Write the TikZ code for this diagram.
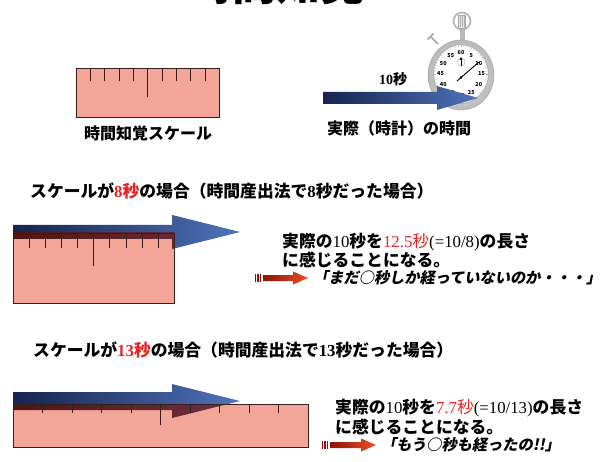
\documentclass[tikz,border=0pt]{standalone}
\usepackage{fontspec}
\setmainfont{Noto Sans CJK JP}
\newfontfamily\jpslant{Noto Sans CJK JP}[FakeSlant=0.2]
\newfontfamily\serdigits{Liberation Serif}
\usetikzlibrary{calc}

\definecolor{rulerpink}{RGB}{243,166,152}
\definecolor{rulerline}{RGB}{55,30,30}
\definecolor{arrownavy}{RGB}{22,36,80}
\definecolor{arrowsteel}{RGB}{80,115,185}
\definecolor{deepmaroon}{RGB}{78,22,18}
\definecolor{plummaroon}{RGB}{112,48,68}
\definecolor{accentred}{RGB}{226,38,38}
\definecolor{iconred}{RGB}{140,20,12}
\definecolor{iconorange}{RGB}{238,78,36}

% block arrow: style, start x, centre y, head x, half shaft, half head, tip x
\newcommand\bigarrow[7]{%
  \shade[#1] (#2,#3-#5) -- (#4,#3-#5) -- (#4,#3-#6) -- (#7,#3)
    -- (#4,#3+#6) -- (#4,#3+#5) -- (#2,#3+#5) -- cycle;}

% nine ticks on a ruler node: name, short length, long length
\newcommand\rulerticks[3]{%
  \foreach \i in {1,...,9}{%
    \pgfmathsetmacro\tlen{\i==5 ? #3 : #2}%
    \draw[rulertick] ($(#1.north west)!\i/10!(#1.north east)$) -- ++(0,\tlen);}}

% small red pointer: left x, centre y, right x
\newcommand\hinticon[3]{%
  \foreach \k in {0,2.4,4.8}{\fill[iconred] (#1+\k,#2-4) rectangle ++(1.3,8);}
  \shade[left color=iconred,right color=iconorange]
    (#1+8,#2-3) -- (#3-15,#2-3) -- (#3-15,#2-6.5) -- (#3,#2)
    -- (#3-15,#2+6.5) -- (#3-15,#2+3) -- (#1+8,#2+3) -- cycle;}

\tikzset{
  rulerfill/.style={fill=rulerpink, draw=none, inner sep=0pt, anchor=north west},
  rulerframe/.style={draw=rulerline, line width=0.9pt},
  rulertick/.style={draw=rulerline, line width=0.9pt},
  caption/.style={inner sep=0pt, font=\bfseries\fontsize{16}{18}\selectfont},
  heading/.style={inner sep=0pt, anchor=west, font=\bfseries\fontsize{16.8}{19}\selectfont},
  bodyline/.style={inner sep=0pt, anchor=west, font=\bfseries\fontsize{16.8}{19}\selectfont},
  sayline/.style={inner sep=0pt, anchor=west, font=\jpslant\bfseries\fontsize{15.2}{17}\selectfont},
  navyarrow/.style={left color=arrownavy, right color=arrowsteel},
  maroonarrow/.style={left color=deepmaroon, right color=plummaroon},
  dialnum/.style={inner sep=0pt, font=\bfseries\fontsize{5.5}{6}\selectfont},
}

\begin{document}
\begin{tikzpicture}[x=1pt,y=-1pt]
\useasboundingbox (0,0) rectangle (607,462);
\fill[white] (0,0) rectangle (607,462);

% title
\node[inner sep=0pt, anchor=base, font=\bfseries\fontsize{44}{44}\selectfont] (title) at (276,1) {時間知覚};

% ---------- perception scale ----------
\node[rulerfill, minimum width=143pt, minimum height=49pt] (r1) at (76,68) {};
\draw[rulerframe] (r1.north west) rectangle (r1.south east);
\rulerticks{r1}{13}{29}
\node[caption] (lab1) at (148,133) {時間知覚スケール};

% ---------- stopwatch ----------
\fill[gray!55] (459.5,28) rectangle (464.5,42);
\draw[gray!60, line width=1.6pt, fill=white] (462,21) circle (8.5);
\draw[gray!70, fill=gray!20] (458.5,15) rectangle (465.5,28);
\foreach \g in {460,462,464} \draw[gray!60, line width=0.4pt] (\g,15.5) -- (\g,27.5);
\draw[gray!70, line width=1.6pt] (438,44) -- (431,37);
\draw[gray!70, line width=1.6pt] (427.5,39.5) -- (433.5,33.5);
\shadedraw[inner color=white, outer color=gray!55, draw=gray!70] (461,75) ellipse (33 and 35);
\draw[gray!60, line width=1pt, fill=white] (461,74) ellipse (27.5 and 29.5);
\foreach \a in {0,6,...,354}
  \draw[gray!70, line width=0.3pt] ({461+25*cos(\a)},{74-27*sin(\a)}) -- ({461+27*cos(\a)},{74-29*sin(\a)});
\foreach \n [count=\k from 0] in {60,5,10,15,20,25,30,35,40,45,50,55}
  \node[dialnum] (dial\n) at ({461+20.5*cos(90-30*\k)},{74-21.5*sin(90-30*\k)}) {\n};
\draw[gray!70, line width=0.4pt] (461,62) circle (4);
\draw[black, line width=0.5pt] (461,66) -- (461,59);
\fill[black] (461,57) -- (459.5,60) -- (462.5,60) -- cycle;
\draw[black, line width=0.9pt] (457,81) -- (479,62);
\fill[black] (461,77.5) circle (1.3);

% real ten seconds
\bigarrow{navyarrow}{323}{98}{437}{6}{12}{478}
\node[inner sep=0pt, font=\bfseries\fontsize{14}{16}\selectfont] (tensec) at (393,79) {{\serdigits 10}秒};
\node[caption] (lab2) at (399,128) {実際（時計）の時間};

% ---------- scale of 8 seconds ----------
\node[heading] (head8) at (30,191)
  {スケールが{\color{accentred}{\serdigits 8}秒}の場合（時間産出法で{\serdigits 8}秒だった場合）};
\bigarrow{navyarrow}{13}{232}{172}{7}{17}{240}
\node[rulerfill, minimum width=161pt, minimum height=70pt] (r2) at (13,233) {};
\begin{scope}
  \clip (r2.north west) rectangle (r2.south east);
  \bigarrow{maroonarrow}{13}{232}{172}{7}{17}{240}
\end{scope}
\draw[rulerframe] (r2.north west) rectangle (r2.south east);
\rulerticks{r2}{15}{33}

\node[bodyline] (long8) at (282,242)
  {実際の{\serdigits\mdseries 10}秒を{\color{accentred}\mdseries{\serdigits 12.5}秒}{\serdigits\mdseries (=10/8)}の長さ};
\node[bodyline] (feel8) at (282,260) {に感じることになる。};
\hinticon{255}{278}{308}
\node[sayline] (say8) at (313,278) {「まだ○秒しか経っていないのか・・・」};

% ---------- scale of 13 seconds ----------
\node[heading] (head13) at (33,350)
  {スケールが{\color{accentred}{\serdigits 13}秒}の場合（時間産出法で{\serdigits 13}秒だった場合）};
\bigarrow{navyarrow}{13}{401}{172}{9}{17}{240}
\node[rulerfill, minimum width=295pt, minimum height=43pt] (r3) at (13,404) {};
\begin{scope}
  \clip (r3.north west) rectangle (r3.south east);
  \bigarrow{maroonarrow}{13}{401}{172}{9}{17}{240}
\end{scope}
\draw[rulerframe] (r3.north west) rectangle (r3.south east);
\rulerticks{r3}{9}{21}

\node[bodyline] (short13) at (335,408)
  {実際の{\serdigits\mdseries 10}秒を{\color{accentred}\mdseries{\serdigits 7.7}秒}{\serdigits\mdseries (=10/13)}の長さ};
\node[bodyline] (feel13) at (335,427) {に感じることになる。};
\hinticon{322}{445}{376}
\node[sayline] (say13) at (381,445) {「もう○秒も経ったの!!」};
\end{tikzpicture}
\end{document}
